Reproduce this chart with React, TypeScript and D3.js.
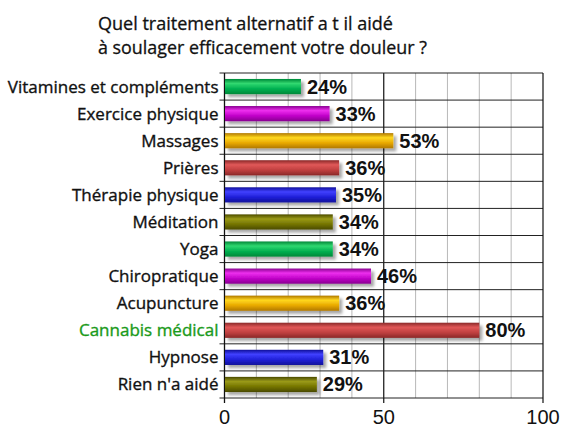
import { useEffect, useRef } from 'react'
import * as d3 from 'd3'

const titleLines = ['Quel traitement alternatif a t il aidé', 'à soulager efficacement votre douleur ?']

const categories = [
  'Vitamines et compléments',
  'Exercice physique',
  'Massages',
  'Prières',
  'Thérapie physique',
  'Méditation',
  'Yoga',
  'Chiropratique',
  'Acupuncture',
  'Cannabis médical',
  'Hypnose',
  "Rien n'a aidé",
]

const values = [24, 33, 53, 36, 35, 34, 34, 46, 36, 80, 31, 29]

const xTicks = [0, 50, 100]
const highlighted = 'Cannabis médical'

// light / mid / dark shades, cycled over the bars
const palette = [
  ['#30d870', '#00b050', '#008838'],
  ['#ee30ee', '#c000c8', '#880090'],
  ['#ffd820', '#e8a800', '#b07800'],
  ['#e05858', '#c04040', '#8a2828'],
  ['#4040ff', '#2020d8', '#10109a'],
  ['#9a9a18', '#747400', '#4a4a00'],
]

export default function App() {
  const ref = useRef<SVGSVGElement | null>(null)

  useEffect(() => {
    if (!ref.current) return
    const svg = d3.select(ref.current)
    svg.selectAll('*').remove()

    const width = 570
    const height = 440
    const margin = { top: 73, right: 27, bottom: 42, left: 224.5 }

    const x = d3.scaleLinear().domain([0, 100]).range([margin.left, width - margin.right])
    const y = d3.scaleBand().domain(categories).range([margin.top, height - margin.bottom]).paddingInner(0.44).paddingOuter(0.22)
    const rowTop = (i: number) => margin.top + i * ((height - margin.bottom - margin.top) / categories.length)

    const defs = svg.append('defs')
    palette.forEach((p, i) => {
      const g = defs.append('linearGradient').attr('id', `grad${i}`).attr('x1', 0).attr('y1', 0).attr('x2', 0).attr('y2', 1)
      g.append('stop').attr('offset', '0%').attr('stop-color', p[2])
      g.append('stop').attr('offset', '30%').attr('stop-color', p[0])
      g.append('stop').attr('offset', '65%').attr('stop-color', p[1])
      g.append('stop').attr('offset', '100%').attr('stop-color', p[2])
    })
    const shadow = defs.append('filter').attr('id', 'shadow').attr('x', '-10%').attr('y', '-50%').attr('width', '130%').attr('height', '220%')
    shadow.append('feDropShadow').attr('dx', 3).attr('dy', 3).attr('stdDeviation', 1.8).attr('flood-color', '#000').attr('flood-opacity', 0.35)

    // Title
    svg.append('g')
      .selectAll('text')
      .data(titleLines)
      .join('text')
      .attr('x', 98)
      .attr('y', (_, i) => 30 + i * 23.5)
      .attr('font-family', '"Open Sans", sans-serif')
      .attr('font-size', 18)
      .attr('fill', '#111')
      .attr('stroke', '#111')
      .attr('stroke-width', 0.3)
      .attr('textLength', (_, i) => (i === 0 ? 295 : 329))
      .attr('lengthAdjust', 'spacingAndGlyphs')
      .text(d => d)

    // Vertical grid
    const grid = svg.append('g')
    grid.selectAll('line.v')
      .data(d3.range(10, 100, 10))
      .join('line')
      .attr('x1', d => x(d))
      .attr('x2', d => x(d))
      .attr('y1', margin.top)
      .attr('y2', height - margin.bottom)
      .attr('stroke', d => (d === 50 ? '#111' : '#b8b8b8'))
      .attr('stroke-width', d => (d === 50 ? 1.2 : 1))

    // Horizontal row lines
    grid.selectAll('line.h')
      .data(d3.range(categories.length + 1))
      .join('line')
      .attr('x1', margin.left - 5)
      .attr('x2', x(100))
      .attr('y1', d => rowTop(d))
      .attr('y2', d => rowTop(d))
      .attr('stroke', '#222')
      .attr('stroke-width', 1)

    // Frame: left axis and right border
    grid.append('line').attr('x1', x(0)).attr('x2', x(0)).attr('y1', margin.top).attr('y2', height - margin.bottom + 5).attr('stroke', '#111').attr('stroke-width', 1.3)
    grid.append('line').attr('x1', x(100)).attr('x2', x(100)).attr('y1', margin.top).attr('y2', height - margin.bottom + 5).attr('stroke', '#111').attr('stroke-width', 1.2)
    grid.append('line').attr('x1', x(50)).attr('x2', x(50)).attr('y1', height - margin.bottom).attr('y2', height - margin.bottom + 5).attr('stroke', '#111').attr('stroke-width', 1.2)

    // Bars
    svg.append('g')
      .selectAll('rect')
      .data(values)
      .join('rect')
      .attr('x', x(0) + 0.5)
      .attr('y', (_, i) => y(categories[i])!)
      .attr('width', d => x(d) - x(0) - 0.5)
      .attr('height', y.bandwidth())
      .attr('fill', (_, i) => `url(#grad${i % palette.length})`)
      .attr('filter', 'url(#shadow)')

    // Value labels
    svg.append('g')
      .selectAll('text')
      .data(values)
      .join('text')
      .attr('x', d => x(d) + 6)
      .attr('y', (_, i) => y(categories[i])! + y.bandwidth() / 2 + 7)
      .attr('font-family', '"Liberation Sans", Arial, sans-serif')
      .attr('font-weight', 'bold')
      .attr('font-size', 20)
      .attr('fill', '#111')
      .text(d => `${d}%`)

    // Category labels
    svg.append('g')
      .selectAll('text')
      .data(categories)
      .join('text')
      .attr('x', margin.left - 6)
      .attr('y', d => y(d)! + y.bandwidth() / 2 + 6)
      .attr('text-anchor', 'end')
      .attr('font-family', '"Open Sans", sans-serif')
      .attr('font-size', 17)
      .attr('fill', d => (d === highlighted ? '#1a9a1a' : '#111'))
      .attr('stroke', d => (d === highlighted ? '#1a9a1a' : '#111'))
      .attr('stroke-width', 0.35)
      .text(d => d)

    // X tick labels
    svg.append('g')
      .selectAll('text')
      .data(xTicks)
      .join('text')
      .attr('x', d => x(d))
      .attr('y', height - margin.bottom + 26)
      .attr('text-anchor', 'middle')
      .attr('font-family', '"Liberation Sans", Arial, sans-serif')
      .attr('font-size', 20)
      .attr('fill', '#111')
      .text(d => d)

    svg.attr('viewBox', `0 0 ${width} ${height}`).attr('width', width).attr('height', height)
  }, [])

  return (
    <div style={{ position: 'absolute', left: 0, top: 0, background: '#fff' }}>
      <svg ref={ref} style={{ display: 'block' }}></svg>
    </div>
  )
}
